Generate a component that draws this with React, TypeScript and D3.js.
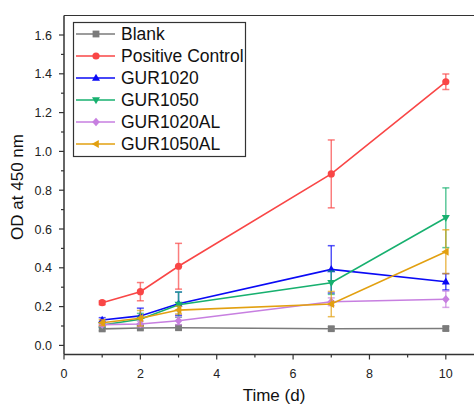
import React from "react";
import * as d3 from "d3";

const days = [1, 2, 3, 7, 10];
const seriesNames = ["Blank", "Positive Control", "GUR1020", "GUR1050", "GUR1020AL", "GUR1050AL"];
const blank = [0.085, 0.09, 0.091, 0.086, 0.087];
const blankErr = [0.01, 0.01, 0.01, 0.01, 0.01];
const positive = [0.22, 0.277, 0.408, 0.884, 1.359];
const positiveErr = [0.01, 0.047, 0.118, 0.175, 0.04];
const gur1020 = [0.131, 0.152, 0.215, 0.392, 0.328];
const gur1020Err = [0.012, 0.04, 0.06, 0.122, 0.042];
const gur1050 = [0.105, 0.135, 0.21, 0.323, 0.658];
const gur1050Err = [0.012, 0.03, 0.065, 0.06, 0.154];
const gur1020al = [0.107, 0.11, 0.127, 0.225, 0.238];
const gur1020alErr = [0.01, 0.015, 0.02, 0.02, 0.042];
const gur1050al = [0.117, 0.14, 0.182, 0.213, 0.483];
const gur1050alErr = [0.015, 0.04, 0.02, 0.065, 0.113];
const xTicks = [0, 2, 4, 6, 8, 10];
const yTicks = [0, 0.2, 0.4, 0.6, 0.8, 1.0, 1.2, 1.4, 1.6];

const colors = ["#7b7b7b", "#f94646", "#0a0af5", "#17b06f", "#c77fe0", "#e2a010"];
const shapes = ["square", "circle", "triUp", "triDown", "diamond", "triLeft"];

const values = [blank, positive, gur1020, gur1050, gur1020al, gur1050al];
const errors = [blankErr, positiveErr, gur1020Err, gur1050Err, gur1020alErr, gur1050alErr];

const font = "'Liberation Sans', Arial, sans-serif";

function Marker({ shape, cx, cy, color }: { shape: string; cx: number; cy: number; color: string }) {
  const s = 3.4;
  if (shape === "square") return <rect x={cx - s} y={cy - s} width={2 * s} height={2 * s} fill={color} />;
  if (shape === "circle") return <circle cx={cx} cy={cy} r={3.6} fill={color} />;
  let pts = "";
  if (shape === "triUp") pts = `${cx},${cy - 4.3} ${cx - 4},${cy + 2.8} ${cx + 4},${cy + 2.8}`;
  if (shape === "triDown") pts = `${cx},${cy + 4.3} ${cx - 4},${cy - 2.8} ${cx + 4},${cy - 2.8}`;
  if (shape === "triLeft") pts = `${cx - 4.3},${cy} ${cx + 2.8},${cy - 4} ${cx + 2.8},${cy + 4}`;
  if (shape === "diamond") pts = `${cx},${cy - 4.3} ${cx + 3.8},${cy} ${cx},${cy + 4.3} ${cx - 3.8},${cy}`;
  return <polygon points={pts} fill={color} />;
}

export default function App() {
  const x = d3.scaleLinear().domain([0, 11]).range([64, 484]);
  const y = d3.scaleLinear().domain([0, 1.6]).range([345.4, 35]);
  const yBottom = 354.5;
  const yTop = 15.5;
  const xMinor = d3.range(1, 11, 2);
  const yMinor = d3.range(0.1, 1.7, 0.2);
  const line = d3
    .line<number>()
    .x((_, i) => x(days[i]))
    .y((d) => y(d));

  return (
    <svg width={474} height={407} style={{ position: "absolute", left: 0, top: 0, background: "#fff" }} fontFamily={font}>
      {/* frame */}
      <line x1={x(0)} x2={484} y1={yTop} y2={yTop} stroke="#333" strokeWidth={1.2} />
      <line x1={x(0)} x2={x(0)} y1={yTop} y2={yBottom} stroke="#333" strokeWidth={1.5} />
      <line x1={x(0)} x2={484} y1={yBottom} y2={yBottom} stroke="#333" strokeWidth={1.5} />
      {/* x ticks */}
      {xTicks.map((t) => (
        <g key={"xt" + t}>
          <line x1={x(t)} x2={x(t)} y1={yBottom} y2={yBottom + 5} stroke="#333" strokeWidth={1.2} />
          <text x={x(t)} y={378} fontSize={12.5} textAnchor="middle" fill="#222">
            {t}
          </text>
        </g>
      ))}
      {xMinor.map((t) => (
        <line key={"xm" + t} x1={x(t)} x2={x(t)} y1={yBottom} y2={yBottom + 3} stroke="#333" strokeWidth={1.2} />
      ))}
      {/* y ticks */}
      {yTicks.map((t) => (
        <g key={"yt" + t}>
          <line x1={x(0) - 5} x2={x(0)} y1={y(t)} y2={y(t)} stroke="#333" strokeWidth={1.2} />
          <text x={52} y={y(t) + 4.5} fontSize={12.5} textAnchor="end" fill="#222">
            {t.toFixed(1)}
          </text>
        </g>
      ))}
      {yMinor.map((t) => (
        <line key={"ym" + t} x1={x(0) - 3} x2={x(0)} y1={y(t)} y2={y(t)} stroke="#333" strokeWidth={1.2} />
      ))}
      {/* axis titles */}
      <text x={274} y={401} fontSize={17} textAnchor="middle" fill="#111">
        Time (d)
      </text>
      <text transform={`translate(23,187) rotate(-90)`} fontSize={17} textAnchor="middle" fill="#111">
        OD at 450 nm
      </text>
      {/* series */}
      {values.map((vals, si) => (
        <g key={"s" + si}>
          <path d={line(vals) || ""} fill="none" stroke={colors[si]} strokeWidth={1.6} />
          {vals.map((v, i) => {
            const e = errors[si][i];
            const cx = x(days[i]);
            return (
              <g key={i} stroke={colors[si]} strokeOpacity={0.7} strokeWidth={1.5}>
                <line x1={cx} x2={cx} y1={y(v + e)} y2={y(v - e)} />
                <line x1={cx - 3.5} x2={cx + 3.5} y1={y(v + e)} y2={y(v + e)} />
                <line x1={cx - 3.5} x2={cx + 3.5} y1={y(v - e)} y2={y(v - e)} />
              </g>
            );
          })}
          {vals.map((v, i) => (
            <Marker key={"m" + i} shape={shapes[si]} cx={x(days[i])} cy={y(v)} color={colors[si]} />
          ))}
        </g>
      ))}
      {/* legend */}
      <rect x={73.5} y={22.5} width={172} height={134} fill="#fff" stroke="#333" strokeWidth={1.2} />
      {seriesNames.map((name, i) => {
        const ly = 34 + i * 22;
        return (
          <g key={"l" + i}>
            <line x1={76} x2={115} y1={ly} y2={ly} stroke={colors[i]} strokeWidth={1.6} />
            <Marker shape={shapes[i]} cx={96} cy={ly} color={colors[i]} />
            <text x={121} y={ly + 6} fontSize={17.5} fill="#111">
              {name}
            </text>
          </g>
        );
      })}
    </svg>
  );
}
